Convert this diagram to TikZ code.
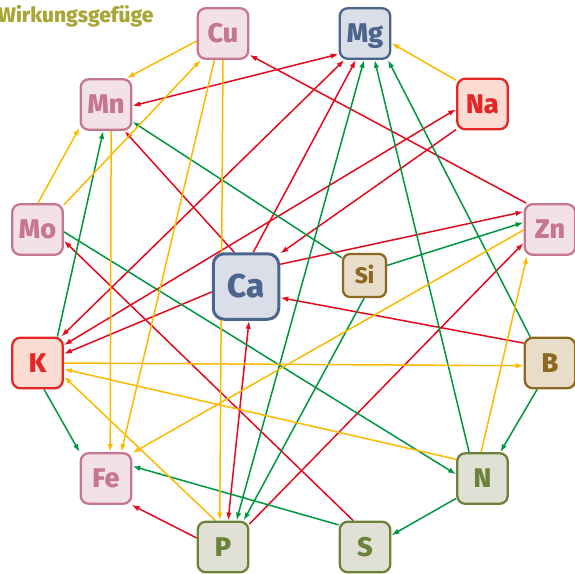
\documentclass[tikz,border=0pt]{standalone}
\usepackage{fontspec}
\setmainfont{Fira Sans}[BoldFont={Fira Sans ExtraBold}]
\usetikzlibrary{arrows.meta,backgrounds}

\definecolor{rosarand}{RGB}{198,118,142}
\definecolor{rosafill}{RGB}{242,226,231}
\definecolor{blaurand}{RGB}{76,101,140}
\definecolor{blaufill}{RGB}{218,222,232}
\definecolor{rotrand}{RGB}{228,38,38}
\definecolor{rotfill}{RGB}{252,220,210}
\definecolor{braunrand}{RGB}{140,104,34}
\definecolor{braunfill}{RGB}{232,221,200}
\definecolor{olivrand}{RGB}{108,130,58}
\definecolor{olivfill}{RGB}{224,225,212}
\definecolor{pfrot}{RGB}{228,10,30}
\definecolor{pfgruen}{RGB}{0,150,64}
\definecolor{pfgelb}{RGB}{251,186,0}
\definecolor{titelfarbe}{RGB}{170,165,55}

\tikzset{
  elm/.style={draw, rounded corners=8pt, line width=2.3pt, minimum size=50.5pt,
    inner sep=0pt, text height=18.5pt, text depth=0pt,
    font=\fontsize{27}{27}\selectfont\bfseries},
  rosa/.style={elm, draw=rosarand, fill=rosafill, text=rosarand},
  blau/.style={elm, draw=blaurand, fill=blaufill, text=blaurand},
  rot/.style={elm, draw=rotrand, fill=rotfill, text=rotrand},
  braun/.style={elm, draw=braunrand, fill=braunfill, text=braunrand},
  oliv/.style={elm, draw=olivrand, fill=olivfill, text=olivrand},
  gross/.style={minimum size=65.5pt, line width=3pt, rounded corners=11pt,
    text height=22.5pt, font=\fontsize{33}{33}\selectfont\bfseries},
  klein/.style={minimum size=43pt, rounded corners=7pt,
    text height=15.5pt, font=\fontsize{22.5}{22.5}\selectfont\bfseries},
  pf/.style={line width=1.5pt, ->},
  rotpf/.style={pf, draw=pfrot, fill=pfrot},
  gruenpf/.style={pf, draw=pfgruen, fill=pfgruen},
  gelbpf/.style={pf, draw=pfgelb, fill=pfgelb},
}

\begin{document}
\begin{tikzpicture}[x=1pt, y=-1pt, >={Latex[length=8pt,width=5.5pt]}]
\useasboundingbox (0,0) rectangle (575,573);

\node[anchor=base east, text=titelfarbe, font=\fontsize{21}{21}\selectfont\bfseries]
  (titel) at (157,22) {Wirkungsgefüge};

% Elemente im Kreis
\node[rosa]  (Cu) at (223,33.5) {Cu};
\node[blau]  (Mg) at (365,33.5) {Mg};
\node[rosa]  (Mn) at (106,104.5) {Mn};
\node[rot]   (Na) at (482.5,104) {Na};
\node[rosa]  (Mo) at (37.5,229.5) {Mo};
\node[rosa]  (Zn) at (550,229.5) {Zn};
\node[rot]   (K)  at (37.5,363) {K};
\node[braun] (B)  at (550,363) {B};
\node[rosa]  (Fe) at (106,478.5) {Fe};
\node[oliv]  (N)  at (482.5,478.5) {N};
\node[oliv]  (P)  at (223,547) {P};
\node[oliv]  (S)  at (365,547) {S};
% innen
\node[blau, gross]  (Ca) at (246,286.5) {Ca};
\node[braun, klein] (Si) at (364.5,275.5) {Si};

\begin{scope}[on background layer]
% rot
\draw[rotpf] (Zn.132) -- (Cu.-39);
\draw[rotpf, <->] (Mn.-3) -- (Mg.218);
\draw[rotpf, <->] (K.48) -- (Mg.232);
\draw[rotpf] (Ca.78) -- (Mg.251);
\draw[rotpf, <->] (K.34) -- (Na.191);
\draw[rotpf] (Na.224) -- (Ca.44);
\draw[rotpf] (Ca.189) -- (K.19);
\draw[rotpf] (Ca.33) -- (Zn.146);
\draw[rotpf] (Ca.109) -- (Mn.-55);
\draw[rotpf] (S.114) -- (Mo.-23);
\draw[rotpf] (P.41) -- (Zn.207);
\draw[rotpf] (P.161) -- (Fe.-46);
\draw[rotpf, <->] (Ca.-85) -- (P.79);
\draw[rotpf] (B.143) -- (Ca.-18);
% gruen
\draw[gruenpf] (Mo.-5) -- (N.171);
\draw[gruenpf] (K.53) -- (Mn.264);
\draw[gruenpf] (Si.142) -- (Mn.-33);
\draw[gruenpf] (Si.24) -- (Zn.165);
\draw[gruenpf] (Si.269) -- (P.52);
\draw[gruenpf, <->] (Mg.268) -- (P.63);
\draw[gruenpf] (N.117) -- (Mg.-70);
\draw[gruenpf] (B.127) -- (Mg.-49);
\draw[gruenpf] (B.244) -- (N.56);
\draw[gruenpf] (N.217) -- (S.24);
\draw[gruenpf] (S.140) -- (Fe.25);
\draw[gruenpf] (K.-76) -- (Fe.135);
% gelb
\draw[gelbpf] (Cu.196) -- (Mn.52);
\draw[gelbpf] (Mo.43) -- (Cu.230);
\draw[gelbpf] (Mo.89) -- (Mn.221);
\draw[gelbpf] (Cu.252) -- (Fe.60);
\draw[gelbpf] (Cu.-90) -- (P.97);
\draw[gelbpf] (Mn.-79) -- (Fe.81);
\draw[gelbpf] (K.0) -- (B.186);
\draw[gelbpf] (N.144) -- (K.-13);
\draw[gelbpf] (P.106) -- (K.-27);
\draw[gelbpf] (Zn.181) -- (Fe.44);
\draw[gelbpf] (N.93) -- (Zn.229);
\draw[gelbpf] (Na.138) -- (Mg.-20);
\end{scope}
\end{tikzpicture}
\end{document}
